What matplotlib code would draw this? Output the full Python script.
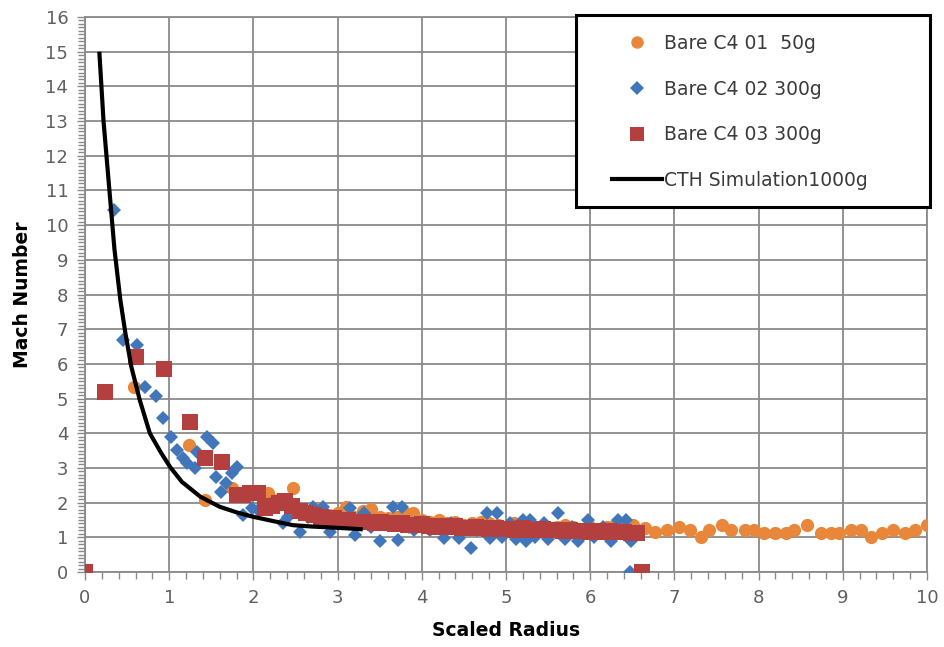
import matplotlib
matplotlib.use("Agg")
import matplotlib.pyplot as plt
from matplotlib.lines import Line2D
from matplotlib.patches import Rectangle
from matplotlib.ticker import MultipleLocator

# ---------------- data ----------------
orange_x = [0.58, 1.23, 1.43, 1.74, 2.17, 2.30, 2.47,
            2.6, 2.7, 2.8, 2.9, 3.0, 3.1, 3.2, 3.3, 3.4, 3.5, 3.6, 3.7, 3.8, 3.9,
            4.0, 4.1, 4.2, 4.3, 4.4, 4.5, 4.6, 4.7, 4.8, 4.9, 5.0, 5.1, 5.2, 5.3,
            5.4, 5.5, 5.6, 5.7, 5.8, 5.9, 6.0, 6.1, 6.2, 6.3, 6.4,
            6.51, 6.65, 6.77, 6.91, 7.05, 7.19, 7.31, 7.41, 7.57, 7.67, 7.84, 7.94,
            8.06, 8.20, 8.32, 8.42, 8.58, 8.74, 8.86, 8.96, 9.10, 9.22, 9.34, 9.46,
            9.60, 9.74, 9.86, 10.0]
orange_y = [5.32, 3.66, 2.07, 2.42, 2.27, 2.10, 2.41,
            1.75, 1.70, 1.85, 1.65, 1.70, 1.88, 1.60, 1.75, 1.81, 1.60, 1.55, 1.60, 1.70, 1.69,
            1.50, 1.45, 1.50, 1.40, 1.45, 1.35, 1.40, 1.45, 1.40, 1.35, 1.30, 1.40, 1.35, 1.30,
            1.30, 1.25, 1.30, 1.35, 1.30, 1.25, 1.30, 1.25, 1.30, 1.35, 1.30,
            1.35, 1.26, 1.16, 1.21, 1.30, 1.21, 1.02, 1.21, 1.35, 1.21, 1.21, 1.21,
            1.11, 1.11, 1.11, 1.21, 1.35, 1.11, 1.11, 1.11, 1.21, 1.21, 1.02, 1.11,
            1.21, 1.11, 1.21, 1.35]

blue_x = [0.34, 0.45, 0.62, 0.71, 0.84, 0.93, 1.02, 1.09, 1.16, 1.21, 1.33, 1.31,
          1.45, 1.52, 1.56, 1.62, 1.68, 1.74, 1.80, 1.88, 1.98, 2.05, 2.20, 2.35,
          2.41, 2.55, 2.65, 2.71, 2.83, 2.91, 3.00, 3.15, 3.21, 3.31, 3.40, 3.50,
          3.60, 3.66, 3.72, 3.76, 3.85, 3.91, 4.00, 4.10, 4.20, 4.26, 4.35, 4.44,
          4.50, 4.59, 4.65, 4.77, 4.81, 4.89, 4.95, 5.05, 5.12, 5.20, 5.24, 5.28,
          5.35, 5.45, 5.50, 5.62, 5.70, 5.78, 5.85, 5.97, 6.05, 6.15, 6.25, 6.33,
          6.43, 6.49, 6.47]
blue_y = [10.43, 6.69, 6.54, 5.34, 5.07, 4.43, 3.90, 3.52, 3.28, 3.13, 3.47, 2.99,
          3.90, 3.71, 2.75, 2.31, 2.56, 2.84, 3.03, 1.64, 1.84, 1.80, 1.95, 1.42,
          1.59, 1.16, 1.60, 1.88, 1.88, 1.16, 1.40, 1.84, 1.07, 1.70, 1.30, 0.90,
          1.40, 1.88, 0.92, 1.88, 1.30, 1.20, 1.45, 1.20, 1.35, 0.98, 1.40, 0.98,
          1.30, 0.68, 1.20, 1.69, 0.98, 1.69, 1.00, 1.40, 0.95, 1.50, 0.90, 1.50,
          1.00, 1.40, 0.95, 1.69, 0.95, 1.30, 0.90, 1.50, 1.00, 1.30, 0.90, 1.50,
          1.50, 0.90, 0.00]

red_x = [0.00, 0.24, 0.61, 0.94, 1.25, 1.43, 1.63, 1.80, 1.88, 1.96, 2.05, 2.14,
         2.22, 2.30, 2.38, 2.46, 2.55, 2.63, 2.72, 2.80, 2.88, 2.96, 3.04, 3.12,
         3.20, 3.28, 3.36, 3.44, 3.52, 3.60, 3.68, 3.76, 3.84, 3.92, 4.00, 4.08,
         4.16, 4.24, 4.32, 4.40, 4.48, 4.56, 4.64, 4.72, 4.80, 4.88, 4.96, 5.04,
         5.12, 5.20, 5.28, 5.36, 5.44, 5.52, 5.60, 5.68, 5.76, 5.84, 5.92, 6.00,
         6.08, 6.16, 6.24, 6.32, 6.40, 6.48, 6.55, 6.61]
red_y = [0.00, 5.20, 6.20, 5.84, 4.33, 3.30, 3.16, 2.22, 2.22, 2.28, 2.28, 1.84,
         1.90, 2.00, 2.05, 1.90, 1.75, 1.70, 1.65, 1.60, 1.55, 1.55, 1.50, 1.50,
         1.45, 1.45, 1.45, 1.42, 1.44, 1.40, 1.38, 1.40, 1.36, 1.35, 1.37, 1.33,
         1.30, 1.32, 1.30, 1.34, 1.28, 1.27, 1.30, 1.26, 1.25, 1.28, 1.24, 1.25,
         1.22, 1.26, 1.22, 1.20, 1.23, 1.20, 1.22, 1.18, 1.20, 1.17, 1.19, 1.16,
         1.18, 1.15, 1.17, 1.14, 1.15, 1.13, 1.12, 0.00]

cth_x = [0.17, 0.22, 0.29, 0.35, 0.42, 0.48, 0.55, 0.65, 0.77, 0.90, 1.01, 1.15,
         1.37, 1.60, 1.80, 2.00, 2.25, 2.47, 2.70, 2.87, 3.10, 3.30]
cth_y = [15.0, 13.0, 11.0, 9.30, 7.84, 6.88, 5.92, 4.96, 4.00, 3.45, 3.03, 2.60,
         2.17, 1.88, 1.72, 1.59, 1.46, 1.35, 1.31, 1.29, 1.26, 1.23]

labels = ["Bare C4 01  50g", "Bare C4 02 300g", "Bare C4 03 300g", "CTH Simulation1000g"]

# ---------------- style ----------------
C_OR = "#E8873A"
C_BL = "#4176BA"
C_RD = "#B3403F"
GRID = "#8A8A8A"
TXT = "#5F5F5F"

plt.rcParams['font.family'] = ['DejaVu Sans']

fig = plt.figure(figsize=(9.44, 6.47), dpi=100)
ax = fig.add_axes([85/944, 75/647, 842/944, 555/647])

ax.plot(orange_x, orange_y, 'o', color=C_OR, ms=9.5, mew=0, zorder=3)
ax.plot(blue_x, blue_y, 'D', color=C_BL, ms=7.5, mew=0, zorder=4)
ax.plot(red_x, red_y, 's', color=C_RD, ms=11.5, mew=0, zorder=5)
ax.plot(cth_x, cth_y, '-', color='black', lw=3, zorder=6, solid_capstyle='butt')

ax.set_xlim(0, 10)
ax.set_ylim(0, 16)
ax.xaxis.set_major_locator(MultipleLocator(1))
ax.xaxis.set_minor_locator(MultipleLocator(0.2))
ax.yaxis.set_major_locator(MultipleLocator(1))
ax.yaxis.set_minor_locator(MultipleLocator(0.1))
ax.grid(True, which='major', color=GRID, lw=1.3, zorder=0)
ax.set_axisbelow(True)
for s in ax.spines.values():
    s.set_color(GRID)
    s.set_linewidth(1.3)
ax.tick_params(which='both', direction='out', color=GRID, width=1.0)
ax.tick_params(which='major', length=6, labelsize=13, labelcolor=TXT, pad=6)
ax.tick_params(which='minor', length=5)

ax.set_xlabel("Scaled Radius", fontsize=13.5, fontweight='bold', labelpad=10)
ax.set_ylabel("Mach Number", fontsize=13.5, fontweight='bold', labelpad=10)

# legend frame
rect = Rectangle((491/842, 365/555), 354/842, 192/555, transform=ax.transAxes,
                 facecolor='white', edgecolor='black', lw=2.2, clip_on=False, zorder=10)
ax.add_patch(rect)
handles = [Line2D([], [], ls='none', marker='o', color=C_OR, ms=9, mew=0),
           Line2D([], [], ls='none', marker='D', color=C_BL, ms=7.5, mew=0),
           Line2D([], [], ls='none', marker='s', color=C_RD, ms=10, mew=0),
           Line2D([], [], color='black', lw=3)]
leg = ax.legend(handles, labels, loc='upper left', bbox_to_anchor=(527/842, 538/555),
                frameon=False, fontsize=13.5, borderpad=0, borderaxespad=0,
                handlelength=2.65, handletextpad=0.1, labelspacing=1.42, numpoints=1)
leg.set_zorder(11)
for t in leg.get_texts():
    t.set_color("#3A3A3A")

fig.savefig("out.png", dpi=100)
